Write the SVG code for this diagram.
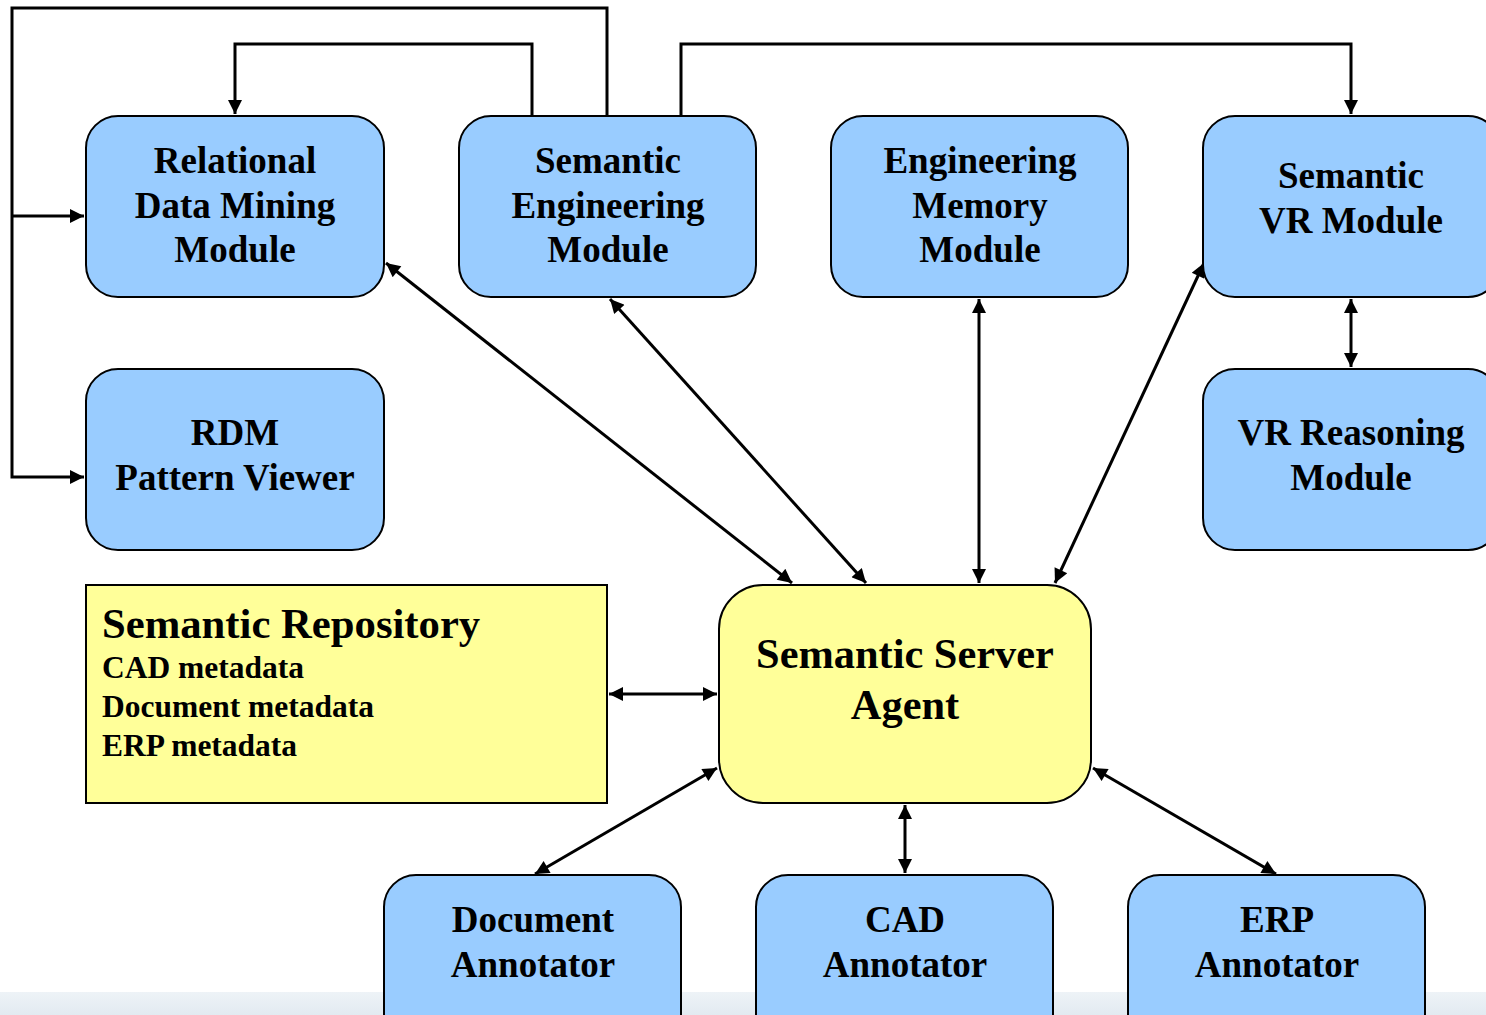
<svg xmlns="http://www.w3.org/2000/svg" width="1486" height="1015" viewBox="0 0 1486 1015">
<defs>
<linearGradient id="band" x1="0" y1="0" x2="0" y2="1">
<stop offset="0" stop-color="#eef3f7"/>
<stop offset="1" stop-color="#e2eaf1"/>
</linearGradient>
<marker id="ah" viewBox="0 0 10 10" refX="10" refY="5" markerWidth="17" markerHeight="14" markerUnits="userSpaceOnUse" orient="auto-start-reverse">
<path d="M0,0 L10,5 L0,10 z" fill="#000"/>
</marker>
</defs>
<style>
.mod{fill:#99CCFF;stroke:#000;stroke-width:2}
.yel{fill:#FFFF99;stroke:#000;stroke-width:2}
.t{font-family:"Liberation Serif","Times New Roman",serif;font-weight:bold;font-size:37px;fill:#000;text-anchor:middle}
.c{fill:none;stroke:#000;stroke-width:3}
</style>
<rect x="0" y="0" width="1486" height="1015" fill="#fff"/>
<rect x="0" y="992" width="1486" height="23" fill="url(#band)"/>

<g id="connectors">
<path class="c" d="M607,116 V8 H12 V477 H84" marker-end="url(#ah)"/>
<path class="c" d="M12,216 H84" marker-end="url(#ah)"/>
<path class="c" d="M532,116 V44 H235 V114" marker-end="url(#ah)"/>
<path class="c" d="M681,116 V44 H1351 V114" marker-end="url(#ah)"/>
<line class="c" x1="386" y1="263" x2="792" y2="583" marker-start="url(#ah)" marker-end="url(#ah)"/>
<line class="c" x1="610" y1="299" x2="866" y2="583" marker-start="url(#ah)" marker-end="url(#ah)"/>
<line class="c" x1="979" y1="299" x2="979" y2="583" marker-start="url(#ah)" marker-end="url(#ah)"/>
<line class="c" x1="1204" y1="263" x2="1055" y2="583" marker-start="url(#ah)" marker-end="url(#ah)"/>
<line class="c" x1="1351" y1="299" x2="1351" y2="367" marker-start="url(#ah)" marker-end="url(#ah)"/>
<line class="c" x1="609" y1="694" x2="717" y2="694" marker-start="url(#ah)" marker-end="url(#ah)"/>
<line class="c" x1="717" y1="768" x2="535" y2="874" marker-start="url(#ah)" marker-end="url(#ah)"/>
<line class="c" x1="905" y1="805" x2="905" y2="873" marker-start="url(#ah)" marker-end="url(#ah)"/>
<line class="c" x1="1093" y1="768" x2="1276" y2="874" marker-start="url(#ah)" marker-end="url(#ah)"/>
</g>

<g id="relational">
<rect class="mod" x="86" y="116" width="298" height="181" rx="32"/>
<text class="t" x="235" y="173">Relational</text>
<text class="t" x="235" y="218">Data Mining</text>
<text class="t" x="235" y="262">Module</text>
</g>
<g id="semeng">
<rect class="mod" x="459" y="116" width="297" height="181" rx="32"/>
<text class="t" x="608" y="173">Semantic</text>
<text class="t" x="608" y="218">Engineering</text>
<text class="t" x="608" y="262">Module</text>
</g>
<g id="engmem">
<rect class="mod" x="831" y="116" width="297" height="181" rx="32"/>
<text class="t" x="980" y="173">Engineering</text>
<text class="t" x="980" y="218">Memory</text>
<text class="t" x="980" y="262">Module</text>
</g>
<g id="semvr">
<rect class="mod" x="1203" y="116" width="297" height="181" rx="32"/>
<text class="t" x="1351" y="188">Semantic</text>
<text class="t" x="1351" y="233">VR Module</text>
</g>
<g id="rdmviewer">
<rect class="mod" x="86" y="369" width="298" height="181" rx="32"/>
<text class="t" x="235" y="445">RDM</text>
<text class="t" x="235" y="490">Pattern Viewer</text>
</g>
<g id="vrreason">
<rect class="mod" x="1203" y="369" width="297" height="181" rx="32"/>
<text class="t" x="1351" y="445">VR Reasoning</text>
<text class="t" x="1351" y="490">Module</text>
</g>
<g id="repository">
<rect class="yel" x="86" y="585" width="521" height="218"/>
<text class="t" x="102" y="638" style="font-size:42.7px;text-anchor:start">Semantic Repository</text>
<text class="t" x="102" y="678" style="font-size:31.5px;text-anchor:start">CAD metadata</text>
<text class="t" x="102" y="717" style="font-size:31.5px;text-anchor:start">Document metadata</text>
<text class="t" x="102" y="756" style="font-size:31.5px;text-anchor:start">ERP metadata</text>
</g>
<g id="server">
<rect class="yel" x="719" y="585" width="372" height="218" rx="44"/>
<text class="t" x="905" y="668" style="font-size:42.4px">Semantic Server</text>
<text class="t" x="905" y="719" style="font-size:42.4px">Agent</text>
</g>
<g id="docann">
<rect class="mod" x="384" y="875" width="297" height="181" rx="32"/>
<text class="t" x="533" y="932">Document</text>
<text class="t" x="533" y="977">Annotator</text>
</g>
<g id="cadann">
<rect class="mod" x="756" y="875" width="297" height="181" rx="32"/>
<text class="t" x="905" y="932">CAD</text>
<text class="t" x="905" y="977">Annotator</text>
</g>
<g id="erpann">
<rect class="mod" x="1128" y="875" width="297" height="181" rx="32"/>
<text class="t" x="1277" y="932">ERP</text>
<text class="t" x="1277" y="977">Annotator</text>
</g>
</svg>
